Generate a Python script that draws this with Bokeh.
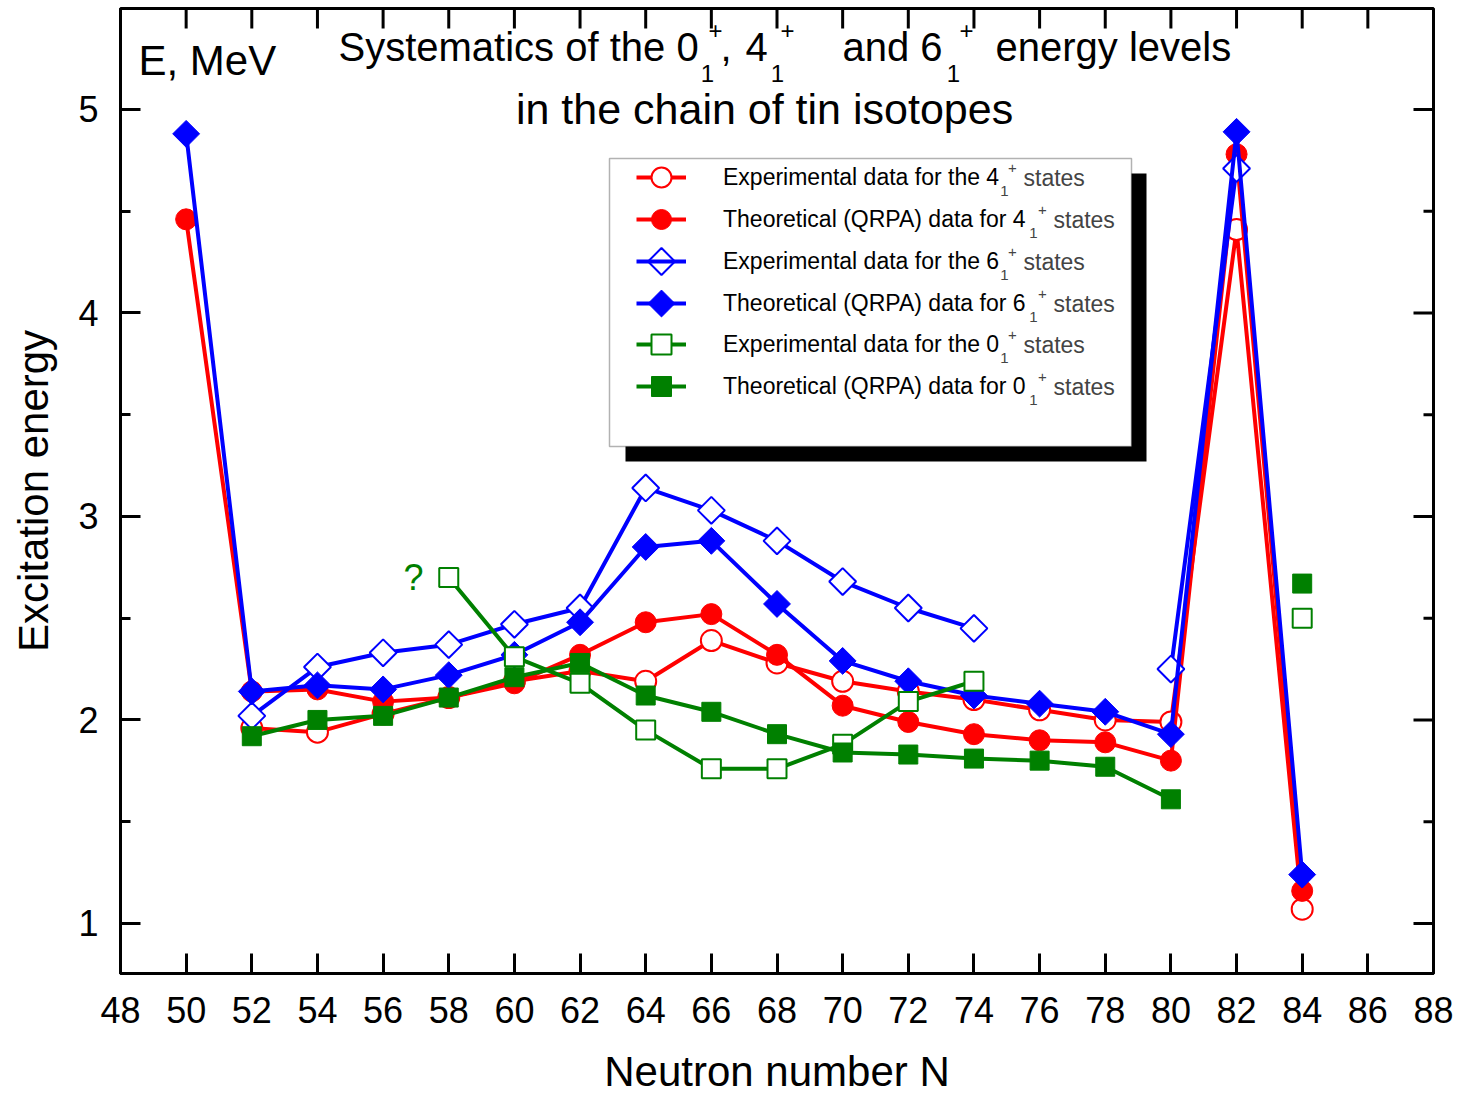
import numpy as np
from bokeh.plotting import figure
from bokeh.models import (Range1d, SingleIntervalTicker, Label,
                          BoxAnnotation, Legend, LegendItem)
from bokeh.embed import file_html
from bokeh.resources import INLINE

nan = float("nan")

# ---------------- data ----------------
neutron_number = [50, 52, 54, 56, 58, 60, 62, 64, 66, 68, 70, 72, 74, 76, 78, 80, 82, 84]
exp_4 = [nan, 1.96, 1.94, 2.03, 2.11, 2.19, 2.24, 2.19, 2.39, 2.28, 2.19, 2.14, 2.10, 2.05, 2.00, 1.99, 4.41, 1.07]
theory_4 = [4.46, 2.14, 2.15, 2.09, 2.11, 2.18, 2.32, 2.48, 2.52, 2.32, 2.07, 1.99, 1.93, 1.90, 1.89, 1.80, 4.78, 1.16]
exp_6 = [nan, 2.02, 2.26, 2.33, 2.37, 2.47, 2.55, 3.14, 3.03, 2.88, 2.68, 2.55, 2.45, nan, nan, 2.25, 4.71, nan]
theory_6 = [4.88, 2.14, 2.17, 2.15, 2.22, 2.32, 2.48, 2.85, 2.88, 2.57, 2.29, 2.19, 2.12, 2.08, 2.04, 1.93, 4.89, 1.24]
exp_0 = [nan, nan, nan, nan, 2.70, 2.31, 2.18, 1.95, 1.76, 1.76, 1.88, 2.09, 2.19, nan, nan, nan, nan, 2.50]
theory_0 = [nan, 1.92, 2.00, 2.02, 2.11, 2.21, 2.28, 2.12, 2.04, 1.93, 1.84, 1.83, 1.81, 1.80, 1.77, 1.61, nan, 2.67]

x_ticks = list(range(48, 90, 2))
y_major = [1, 2, 3, 4, 5]
y_minor = [1.5, 2.5, 3.5, 4.5]

legend_main = ["Experimental data for the 4", "Theoretical (QRPA) data for 4",
               "Experimental data for the 6", "Theoretical (QRPA) data for 6",
               "Experimental data for the 0", "Theoretical (QRPA) data for 0"]

FONT = "Liberation Sans"
RED, BLUE, GREEN = "#ff0000", "#0000ff", "#008000"

# ---------------- layout (pixels) ----------------
W, H = 1461, 1097
FL, FR, FT, FB = 120, 1433, 8, 973
X0, X1, Y0, Y1 = 48, 88, 0.754, 5.496


def sx(px):
    return px - FL


def sy(py):
    return FB - py


def dx(px):
    return X0 + (px - FL) / (FR - FL) * (X1 - X0)


def dy(py):
    return Y1 - (py - FT) / (FB - FT) * (Y1 - Y0)


p = figure(width=W, height=H, output_backend="svg", toolbar_location=None,
           x_range=Range1d(X0, X1), y_range=Range1d(Y0, Y1),
           min_border_left=FL, min_border_right=W - FR, min_border_top=FT,
           min_border_bottom=H - FB,
           x_axis_label="Neutron number N", y_axis_label="Excitation energy")
p.background_fill_color = "white"
p.border_fill_color = "white"
p.outline_line_color = "black"
p.outline_line_width = 3
p.xgrid.visible = False
p.ygrid.visible = False


def style_axis(ax):
    ax.axis_line_width = 3
    ax.major_tick_in = 20
    ax.major_tick_out = 0
    ax.minor_tick_in = 10
    ax.minor_tick_out = 0
    ax.major_tick_line_width = 3
    ax.minor_tick_line_width = 3
    ax.major_label_text_font = FONT
    ax.major_label_text_font_size = "36px"
    ax.major_label_text_color = "black"
    ax.axis_label_text_font = FONT
    ax.axis_label_text_font_style = "normal"
    ax.axis_label_text_font_size = "42px"
    ax.axis_label_text_color = "black"


xa = p.xaxis[0]
xa.ticker = SingleIntervalTicker(interval=2, num_minor_ticks=0)
style_axis(xa)
xa.major_label_standoff = 23
xa.axis_label_standoff = 22

ya = p.yaxis[0]
ya.ticker = SingleIntervalTicker(interval=1, num_minor_ticks=2)
style_axis(ya)
ya.major_label_standoff = 22
ya.axis_label_standoff = 18

# inward ticks on the top and right frame edges
top_len = (Y1 - Y0) * 20 / (FB - FT)
p.segment(x0=x_ticks, y0=[Y1] * len(x_ticks), x1=x_ticks, y1=[Y1 - top_len] * len(x_ticks),
          line_color="black", line_width=3)
r_major = (X1 - X0) * 20 / (FR - FL)
r_minor = (X1 - X0) * 10 / (FR - FL)
p.segment(x0=[X1] * len(y_major), y0=y_major, x1=[X1 - r_major] * len(y_major), y1=y_major,
          line_color="black", line_width=3)
p.segment(x0=[X1] * len(y_minor), y0=y_minor, x1=[X1 - r_minor] * len(y_minor), y1=y_minor,
          line_color="black", line_width=3)

# ---------------- series ----------------
series = [
    (exp_4, RED, "circle", 21, 0.0, True),
    (theory_4, RED, "circle", 21, 0.0, False),
    (exp_6, BLUE, "square", 19, np.pi / 4, True),
    (theory_6, BLUE, "square", 19, np.pi / 4, False),
    (exp_0, GREEN, "square", 19, 0.0, True),
    (theory_0, GREEN, "square", 19, 0.0, False),
]

renderers = []
for vals, col, mk, size, ang, is_open in series:
    lr = p.line(neutron_number, vals, line_color=col, line_width=4)
    sr = p.scatter(neutron_number, vals, marker=mk, size=size, angle=ang,
                   fill_color="white" if is_open else col,
                   line_color=col, line_width=2 if is_open else 1)
    renderers.append((lr, sr))

# question mark next to the doubtful point
p.add_layout(Label(x=56.93, y=2.70, text="?", text_font=FONT, text_font_size="36px",
                   text_color=GREEN, text_align="center", text_baseline="middle"))

# ---------------- legend ----------------
p.add_layout(BoxAnnotation(left=sx(625), right=sx(1146), top=sy(173), bottom=sy(461),
                           left_units="screen", right_units="screen",
                           top_units="screen", bottom_units="screen",
                           fill_color="black", fill_alpha=1, line_color=None))
p.add_layout(BoxAnnotation(left=sx(609), right=sx(1131), top=sy(158), bottom=sy(446),
                           left_units="screen", right_units="screen",
                           top_units="screen", bottom_units="screen",
                           fill_color="white", fill_alpha=1, line_color="black",
                           line_width=1.5))

row_y = [177, 219, 261, 303, 344, 386]
for i, (lr, sr) in enumerate(renderers):
    yc = row_y[i]
    vals, col, mk, size, ang, is_open = series[i]
    if ang:
        # rotated-square (diamond) sample drawn above the legend box
        items = [LegendItem(label=legend_main[i], renderers=[lr])]
        p.scatter([dx(661)], [dy(yc)], marker=mk, size=19, angle=ang,
                  fill_color="white" if is_open else col, line_color=col,
                  line_width=2 if is_open else 1, level="overlay")
    else:
        items = [LegendItem(label=legend_main[i], renderers=[lr, sr])]
    leg = Legend(items=items,
                 location=(sx(636), sy(yc + 25)), glyph_width=50, glyph_height=50,
                 padding=0, margin=0, spacing=0, label_standoff=37,
                 border_line_color=None, background_fill_alpha=0,
                 label_text_font=FONT, label_text_font_size="23px",
                 label_text_color="black")
    p.add_layout(leg)
    theo = (i % 2 == 1)
    sub_x = 1033 if theo else 1004
    sup_x = 1042 if theo else 1012
    st_x = 1053 if theo else 1023
    p.add_layout(Label(x=sx(sub_x), y=sy(yc + 13), x_units="screen", y_units="screen",
                       text="1", text_font=FONT, text_font_size="15px",
                       text_align="center", text_baseline="middle"))
    p.add_layout(Label(x=sx(sup_x), y=sy(yc - 10), x_units="screen", y_units="screen",
                       text="+", text_font=FONT, text_font_size="15px",
                       text_align="center", text_baseline="middle"))
    p.add_layout(Label(x=sx(st_x), y=sy(yc), x_units="screen", y_units="screen",
                       text="states", text_font=FONT, text_font_size="23px",
                       text_align="left", text_baseline="middle"))


# ---------------- title & corner text ----------------
def lab(text, px, py, size, align="left", color="black"):
    p.add_layout(Label(x=sx(px), y=sy(py), x_units="screen", y_units="screen",
                       text=text, text_font=FONT, text_font_size=size,
                       text_align=align, text_baseline="middle", text_color=color))


TS, SS = "40px", "24px"
TY, SUBY, SUPY = 46, 73, 30
lab("Systematics of the 0", 338, TY, TS)
lab("1", 707, SUBY, SS, "center")
lab("+", 715, SUPY, SS, "center")
lab(",", 720, TY, TS)
lab("4", 745, TY, TS)
lab("1", 777, SUBY, SS, "center")
lab("+", 787, SUPY, SS, "center")
lab("and 6", 842, TY, TS)
lab("1", 953, SUBY, SS, "center")
lab("+", 966, SUPY, SS, "center")
lab("energy levels", 995, TY, TS)
lab("in the chain  of tin isotopes", 770, 108, "43px", "center")
lab("E, MeV", 138, 60, "42px")

open("out.html", "w").write(file_html(p, INLINE))
